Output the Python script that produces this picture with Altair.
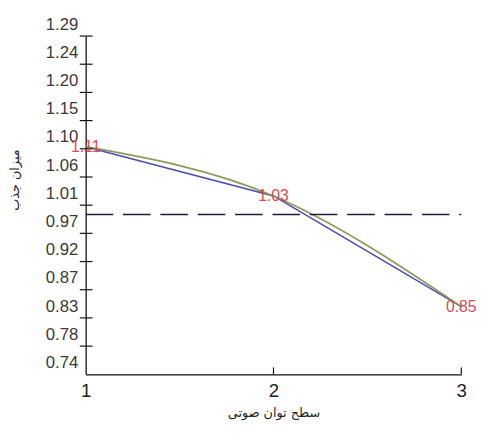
import json
import altair as alt
import pandas as pd

# ---- data ----
levels = [1, 2, 3]
absorption = [1.11, 1.03, 0.85]
point_labels = ["1.11", "1.03", "0.85"]
reference_level = [1.0]

y_tick_positions = [0.74, 0.7858, 0.8317, 0.8775, 0.9233, 0.9692, 1.015,
                    1.0608, 1.1067, 1.1525, 1.1983, 1.2442, 1.29]
y_tick_labels = ["0.74", "0.78", "0.83", "0.87", "0.92", "0.97", "1.01",
                 "1.06", "1.10", "1.15", "1.20", "1.24", "1.29"]
cross_ticks = y_tick_positions[1:]
x_tick_values = [1, 2, 3]
x_ticks = [2, 3]

x_title = "سطح توان صوتی"
y_title = "میزان جذب"

W, H = 382, 344
NUMFONT = "Liberation Sans, Arial, sans-serif"
ARABIC = "DejaVu Sans, sans-serif"

df = pd.DataFrame({"level": levels, "value": absorption, "label": point_labels})
ref_df = pd.DataFrame({"value": reference_level})
ytick_df = pd.DataFrame({"value": cross_ticks})
xtick_df = pd.DataFrame({"level": x_ticks})

xscale = alt.Scale(domain=[1, 3], nice=False, zero=False)
yscale = alt.Scale(domain=[0.74, 1.29], nice=False, zero=False)

label_expr = json.dumps(y_tick_labels) + "[round(datum.index*12)]"

x_axis = alt.Axis(
    values=x_tick_values, labelExpr="format(datum.value, 'd')", title=x_title,
    grid=False, ticks=False,
    domainColor="#111111", domainWidth=1.3, labelOverlap=False,
    labelFont=NUMFONT, labelFontSize=19, labelColor="#222222", labelPadding=8,
    labelFlush=False, labelSeparation=0,
    titleFont=ARABIC, titleFontSize=13, titleFontWeight="normal",
    titleColor="#222222", titlePadding=6)

y_axis = alt.Axis(
    values=y_tick_positions, labelExpr=label_expr, title=y_title, grid=False,
    ticks=False, domainColor="#111111", domainWidth=1.3, labelOverlap=False,
    labelFont=NUMFONT, labelFontSize=17, labelColor="#3a3a3a", labelPadding=8,
    labelOffset=-12, labelBaseline="middle", labelFlush=False,
    titleFont=ARABIC, titleFontSize=13, titleFontWeight="normal",
    titleColor="#222222", titleAngle=-90, titleX=-72, titleY=146,
    titleAlign="center", titleBaseline="middle")


def xq(field="level"):
    return alt.X(f"{field}:Q", scale=xscale, axis=x_axis)


def yq(field="value"):
    return alt.Y(f"{field}:Q", scale=yscale, axis=y_axis)


base = alt.Chart(df)

blue = base.mark_line(color="#4b4bb5", strokeWidth=1.6).encode(x=xq(), y=yq())
olive = base.mark_line(color="#8c9a5c", strokeWidth=1.8,
                       interpolate="monotone").encode(x=xq(), y=yq())

dashed = alt.Chart(ref_df).mark_rule(
    color="#1c1c3a", strokeWidth=1.5, strokeDash=[28, 10]
).encode(y=yq(), x=alt.value(0), x2=alt.value(W))

yticks = alt.Chart(ytick_df).mark_rule(color="#111111", strokeWidth=1.2).encode(
    y=yq(), x=alt.value(-6), x2=alt.value(7))

xticks = alt.Chart(xtick_df).mark_rule(color="#111111", strokeWidth=1.2).encode(
    x=xq(), y=alt.value(H - 7), y2=alt.value(H))

texts = base.mark_text(font=NUMFONT, fontSize=16, color="#d8383f",
                       align="center", baseline="middle", opacity=0.9).encode(
    x=xq(), y=yq(), text="label:N")

chart = alt.layer(blue, olive, dashed, yticks, xticks, texts).properties(
    width=W, height=H,
    autosize=alt.AutoSizeParams(type="none"),
    padding={"left": 79, "top": 25, "right": 17, "bottom": 45},
).configure_view(stroke=None).configure_axis(labelOverlap=False)

chart.save("out.html", embed_options={"renderer": "svg", "actions": False})
